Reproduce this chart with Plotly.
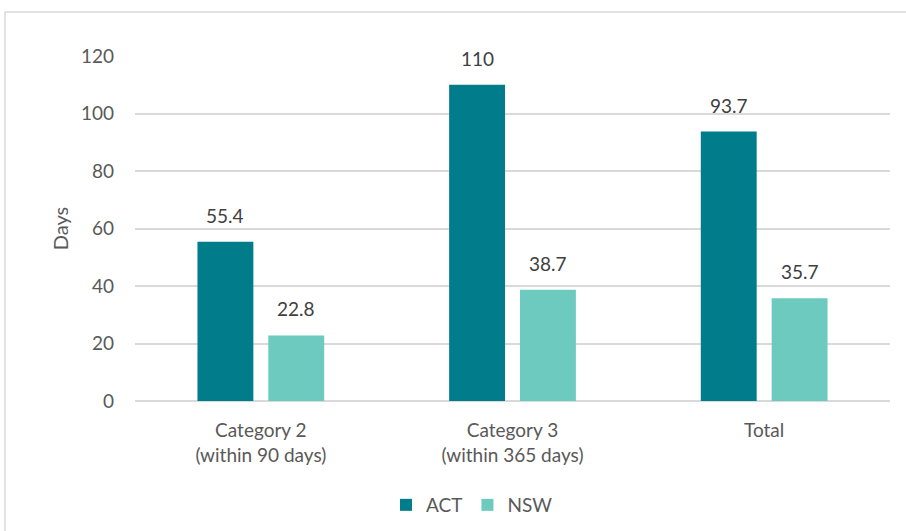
import plotly.graph_objects as go

categories = ["Category 2<br>(within 90 days)", "Category 3<br>(within 365 days)", "Total"]
act_values = [55.4, 110, 93.7]
nsw_values = [22.8, 38.7, 35.7]
act_labels = ["55.4", "110", "93.7"]
nsw_labels = ["22.8", "38.7", "35.7"]
y_ticks = [0, 20, 40, 60, 80, 100, 120]

W, H = 906, 531
ML, MR, MT, MB = 135, 16, 56, 130
BARGAP = 0.437
GROUPGAP = 0.211
FONT = "Lato"
TXT = "#595959"
ACT_C = "#007C8A"
NSW_C = "#6CCABE"
GRID = "#D9D9D9"

fig = go.Figure()
fig.add_trace(go.Bar(name="ACT", x=categories, y=act_values, marker=dict(color=ACT_C, line=dict(width=0))))
fig.add_trace(go.Bar(name="NSW", x=categories, y=nsw_values, marker=dict(color=NSW_C, line=dict(width=0))))

plot_w = W - ML - MR
slot = plot_w / len(categories) * (1 - BARGAP) / 2
for vals, labs, sgn in ((act_values, act_labels, -1), (nsw_values, nsw_labels, 1)):
    for c, v, t in zip(categories, vals, labs):
        fig.add_annotation(x=c, y=v, text=t, showarrow=False, xref="x", yref="y",
                           xshift=sgn * slot / 2, yanchor="bottom", yshift=13,
                           font=dict(family=FONT, size=19, color="#404040"))

plot_h = H - MT - MB
fig.add_shape(type="rect", xref="paper", yref="paper",
              x0=(5 - ML) / plot_w, x1=(W + 10 - ML) / plot_w,
              y0=(H - MB - (H + 10)) / plot_h, y1=(H - MB - 12) / plot_h,
              line=dict(color=GRID, width=1.5), fillcolor="rgba(0,0,0,0)", layer="below")

fig.update_layout(
    width=W, height=H,
    margin=dict(l=ML, r=MR, t=MT, b=MB, autoexpand=False),
    paper_bgcolor="white", plot_bgcolor="white",
    barmode="group", bargap=BARGAP, bargroupgap=GROUPGAP,
    font=dict(family=FONT, size=19, color=TXT),
    showlegend=True,
    legend=dict(orientation="h", x=(472 - ML) / plot_w, xanchor="center", y=(H - MB - 505) / plot_h,
                yanchor="middle", font=dict(family=FONT, size=19, color=TXT), itemwidth=30,
                traceorder="normal"),
    xaxis=dict(showgrid=False, showline=False, ticks="", tickfont=dict(size=19, color=TXT),
               ticklabelstandoff=16, automargin=False),
    yaxis=dict(range=[0, 120], tickvals=y_ticks, showgrid=True, gridcolor=GRID, gridwidth=1.5,
               zeroline=True, zerolinecolor=GRID, zerolinewidth=1.5, showline=False, ticks="",
               tickfont=dict(size=19, color=TXT), ticklabelstandoff=20, automargin=False,
               title=dict(text="Days", font=dict(size=20, color=TXT), standoff=6)),
)

fig.write_html("out.html")
